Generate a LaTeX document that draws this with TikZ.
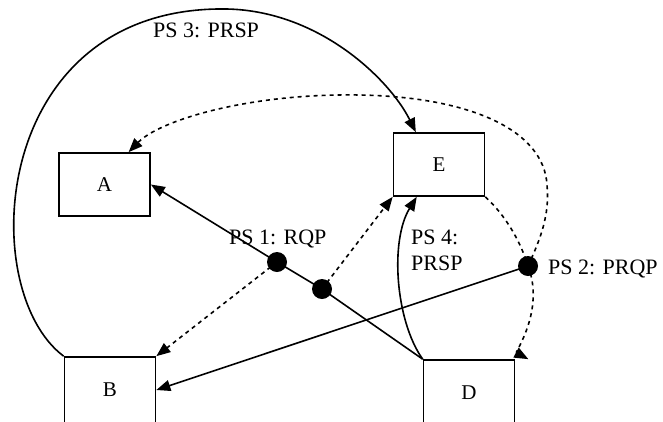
\documentclass[tikz,border=0pt]{standalone}
\usepackage{fontspec}
\setmainfont{Liberation Serif}
\usetikzlibrary{arrows.meta,calc}
\begin{document}
\begin{tikzpicture}[x=1pt,y=-1pt,
  box/.style={draw,line width=1.7pt,minimum width=91pt,minimum height=63pt,
    inner sep=0pt,font=\fontsize{21}{25}\selectfont},
  tallbox/.style={box,minimum height=66pt},
  junction/.style={circle,fill=black,minimum size=20pt,inner sep=0pt},
  lbl/.style={inner sep=0pt,font=\fontsize{22}{26}\selectfont},
  wire/.style={line width=1.6pt},
  dashwire/.style={line width=1.6pt,dash pattern=on 4pt off 4pt},
  arrowend/.style={-{Triangle[length=14pt,width=11pt]}}]
\useasboundingbox (0,0) rectangle (663,421);

% stations
\node[box] (A) at (104.5,184.5) {A};
\node[box] (E) at (439,164.5) {E};
\node[tallbox] (B) at (110,390) {B};
\node[tallbox] (D) at (469,393) {D};

% junction points
\node[junction] (j1) at (277,262) {};
\node[junction] (j2) at (322,289) {};
\node[junction] (j3) at (528,266) {};

% labels
\node[lbl,anchor=base west] (l1) at (229,244) {PS 1: RQP};
\node[lbl,anchor=base west] (l2) at (548,274) {PS 2: PRQP};
\node[lbl,anchor=base west] (l3) at (153,37) {PS 3: PRSP};
\node[lbl,anchor=north west,align=left] (l4) at (411,229.5) {PS 4:\\PRSP};

% PS 1
\draw[wire,arrowend] (D.north west) -- (j2.center) -- (j1.center) -- (A.east);
\draw[dashwire,arrowend] (j1.center) -- (B.north east);
\draw[dashwire,arrowend] (j2.center) -- (E.south west);

% PS 2
\draw[wire,arrowend] (j3.center) -- (B.east);
\draw[dashwire] (E.south east) .. controls (505,215) and (520,240) .. (j3.center);
\draw[dashwire,arrowend] (j3.center) .. controls (545,310) and (515,352) .. ($(D.north east)+(13,0)$);
\draw[dashwire,arrowend] (j3.center) .. controls (540,240) and (550,215) .. (547,185)
  .. controls (544,130) and (470,97) .. (360,95)
  .. controls (250,93) and (160,120) .. ($(A.north west)!0.76!(A.north east)$);

% PS 3
\draw[wire,arrowend] (B.north west) .. controls (-25,290) and (-10,5) .. (227,9)
  .. controls (320,11) and (390,80) .. ($(E.north west)!0.25!(E.north east)$);

% PS 4
\draw[wire,arrowend] (D.north west) .. controls (395,320) and (390,240)
  .. ($(E.south west)!0.26!(E.south east)$);
\end{tikzpicture}
\end{document}
